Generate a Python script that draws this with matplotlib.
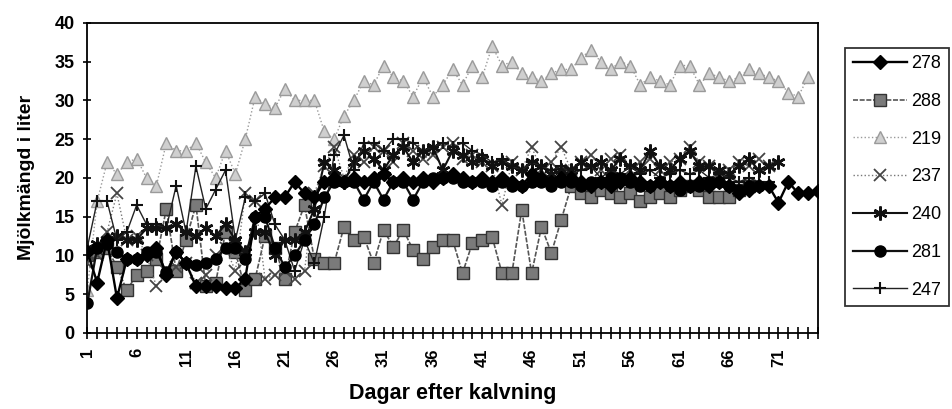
import matplotlib
matplotlib.use("Agg")
import matplotlib.pyplot as plt
import numpy as np

plt.rcParams['font.family'] = ['Liberation Sans', 'DejaVu Sans']

nan = np.nan
days = list(range(1, 76))

# mjölkmängd per ko (liter), avläst ur originalet
k278 = [10.5, 6.5, 12, 4.5, 9.5, 9.5, 10, 11, 7.5, 10.5, 9, 6, 6, 6, 5.8, 5.8, 7, 15, 16, 17.5,
        17.5, 19.5, 18, 17.5, 19.5, 20, 19.5, 20, 19.5, 20, 20.5, 19.5, 20, 19.5, 20, 19.5, 20, 20.5, 20, 19.5,
        20, 19.5, 20, 19.5, 19, 20.5, 20, 19.5, 20, 20, 19.5, 19, 19.5, 19, 19.5, 20, 19.5, 19, 19.5, 19,
        19.5, 19, 19.5, 19, 19.5, 19, 18, 18.5, 19, 19, 16.8, 19.5, 18, 18, 18.3]
k288 = [10, 10.5, 11, 8.5, 5.5, 7.5, 8, 9.5, 16, 8, 12, 16.5, 6, 6.5, 13, 10.5, 5.5, 7, 12.5, 11,
        7, 13, 16.5, 9.5, 9, 9, 13.7, 12, 12.4, 9, 13.3, 11.1, 13.3, 10.7, 9.6, 11.1, 12, 12, 7.7, 11.6,
        12, 12.4, 7.7, 7.7, 15.9, 7.7, 13.7, 10.3, 14.6, 18.9, 18, 17.5, 18.5, 18, 17.5, 18, 17, 17.5, 18, 17.5,
        18.5, 19, 18.5, 17.5, 17.5, 17.5, 18.5, 19, nan, nan, nan, nan, nan, nan, nan]
k219 = [5.5, 17, 22, 20.5, 22, 22.5, 20, 19, 24.5, 23.5, 23.5, 24.5, 22, 20, 23.5, 20.5, 25, 30.5, 29.5, 29,
        31.5, 30, 30, 30, 26, 25, 28, 30, 32.5, 32, 34.5, 33, 32.5, 30.5, 33, 30.5, 32, 34, 32, 34.5,
        33, 37, 34.5, 35, 33.5, 33, 32.5, 33.5, 34, 34, 35.5, 36.5, 35, 34, 35, 34.5, 32, 33, 32.5, 32,
        34.5, 34.5, 32, 33.5, 33, 32.5, 33, 34, 33.5, 33, 32.5, 31, 30.5, 33, nan]
k237 = [9, 10, 13, 18, 12, 12.5, 10, 6, 8, 8.5, 9, 6.5, 7.5, 10, 11, 8, 18, 17, 7, 7.5,
        8, 7, 8, 18, 21.5, 24, 20, 23, 22, 24, 23.5, 22, 24.5, 23.5, 22.5, 23, 24, 24.5, 22.5, 23,
        22, 21.5, 16.5, 22, 21, 24, 21, 22, 24, 21, 22, 23, 21, 22.5, 23, 21, 22, 22.5, 21, 22,
        22.5, 24, 22, 21.5, 20.5, 21, 22, 21.5, 22.5, 21.5, nan, nan, nan, nan, nan]
k240 = [11, 11.5, 12, 12.5, 12, 12, 13.5, 13.5, 13.5, 14, 13, 12.5, 13.5, 12.5, 14, 12, 10.5, 13, 13, 10,
        12, 12, 13, 16, 22, 21, 19.5, 22, 23.5, 22.5, 21, 23, 24, 22, 23.5, 24, 21, 23.5, 23, 22,
        22.5, 21.5, 22, 21.5, 21, 22, 21.5, 20.5, 21, 21, 22, 21.5, 22, 21, 22.5, 21.5, 21, 23.5, 21.5, 21,
        22.5, 23.5, 21.5, 21.5, 21, 20.5, 21.5, 22.5, 21, 21.5, 22, nan, nan, nan, nan]
k281 = [3.8, 11, 11.5, 10.5, 9.5, 9.5, 10.5, 10.5, 7.8, 10.5, 9, 8.8, 9, 9.5, 11, 11, 9.5, 15, 15, 11,
        8.5, 10, 12, 14, 17.5, 19.5, 19.5, 19.5, 17.2, 19.5, 17.2, 19.5, 19.5, 17.2, 19.5, 20, 20, 20, 19.5, 19.5,
        19.5, 19, 19.5, 19, 19, 19.5, 19.5, 19, 19.5, 19.5, 19, 19.5, 19.5, 20, 20, 19.5, 19, 19, 19.5, 19,
        18.5, 19, 19, 19.5, 19.5, 19, 18.5, 19, 19, nan, nan, nan, nan, nan, nan]
k247 = [11, 17, 17, 12, 13, 16.5, 14, 14, 13.5, 19, 13, 21.5, 16, 18.5, 21, 12, 17.5, 17, 18, 14,
        12, 8, 12, 9, 15, 23, 25.5, 21, 24.5, 24.5, 23.5, 25, 25, 24.5, 23.5, 24, 24.5, 24, 24.5, 23.5,
        23, 22, 22.5, 21.5, 21, 22, 21.5, 21, 21.5, 20.5, 21, 21.5, 20, 21, 20.5, 21.5, 20.5, 21, 20, 20.5,
        21, 20.5, 21, 20, 20.5, 20, 19.5, 20, 19.5, 19.5, nan, nan, nan, nan, nan]

fig = plt.figure(figsize=(9.53, 4.09), dpi=100)
ax = fig.add_axes([0.0916, 0.186, 0.7667, 0.758])

ast = (6, 2, 0)
ax.plot(days, k288, color="#555555", lw=1.2, ls=(0, (3, 1)), marker="s", ms=8,
        mfc="#7a7a7a", mec="#333333", mew=1, label="288", zorder=2)
ax.plot(days, k219, color="#9a9a9a", lw=1.0, ls=":", marker="^", ms=8,
        mfc="#cfcfcf", mec="#9a9a9a", mew=1, label="219", zorder=2)
ax.plot(days, k237, color="#777777", lw=1.0, ls=":", marker="x", ms=8,
        mec="#444444", mew=1.3, label="237", zorder=3)
ax.plot(days, k240, color="#111111", lw=1.5, marker=ast, ms=10,
        mec="#111111", mew=1.8, label="240", zorder=3)
ax.plot(days, k247, color="#222222", lw=1.0, marker="+", ms=9,
        mec="#111111", mew=1.5, label="247", zorder=3)
ax.plot(days, k281, color="#111111", lw=1.6, marker="o", ms=8,
        mfc="black", mec="black", label="281", zorder=4)
ax.plot(days, k278, color="black", lw=1.7, marker="D", ms=7,
        mfc="black", mec="black", label="278", zorder=5)

ax.set_xlim(1, 75)
ax.set_ylim(0, 40)
ax.set_yticks(range(0, 41, 5))
ax.set_xticks(days)
ax.set_xticklabels([str(d) if (d - 1) % 5 == 0 else "" for d in days],
                   rotation=90, fontsize=12, fontweight="bold")
ax.tick_params(axis="x", direction="inout", length=8, width=1.2, pad=7)
ax.tick_params(axis="y", direction="inout", length=6, width=1.2, labelsize=13, pad=6)
for t in ax.get_yticklabels():
    t.set_fontweight("bold")
for s in ax.spines.values():
    s.set_linewidth(1.3)
    s.set_color("black")

ax.set_ylabel("Mjölkmängd i liter", fontsize=14, fontweight="bold", labelpad=14)
ax.set_xlabel("Dagar efter kalvning", fontsize=15.5, fontweight="bold", labelpad=12)

order = ["278", "288", "219", "237", "240", "281", "247"]
h, l = ax.get_legend_handles_labels()
hd = dict(zip(l, h))
leg = fig.legend([hd[k] for k in order], order, loc="upper left",
                 bbox_to_anchor=(0.887, 0.883), fontsize=13, frameon=True,
                 fancybox=False, edgecolor="black", handlelength=3.0,
                 labelspacing=1.15, borderpad=0.4, borderaxespad=0,
                 handletextpad=0.25)
leg.get_frame().set_linewidth(1.3)

fig.savefig("out.png", dpi=100, facecolor="white")
